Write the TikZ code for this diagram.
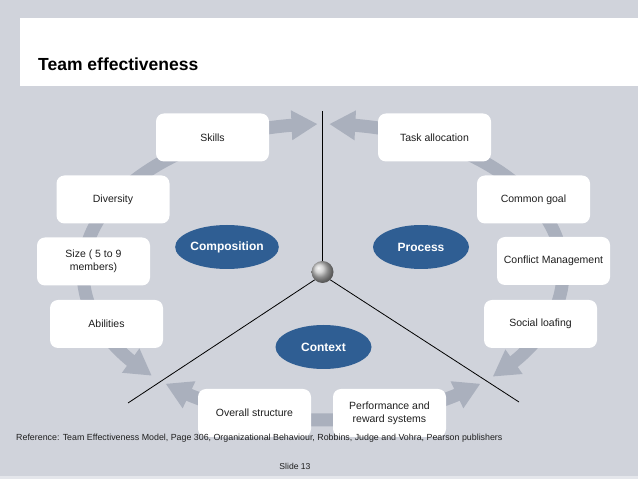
\documentclass[tikz,border=0pt]{standalone}
\usepackage{fontspec}
\setmainfont{Liberation Sans}
\usetikzlibrary{arrows.meta,bending,calc,shapes.geometric}
\definecolor{bg}{HTML}{D0D3DB}
\definecolor{band}{HTML}{AAB0BD}
\definecolor{blueell}{HTML}{2F5E93}
\definecolor{txt}{HTML}{1E1E1E}
\definecolor{strip}{HTML}{E4E6EB}
\tikzset{
  box/.style={fill=white, rounded corners=8pt, minimum width=113pt, minimum height=48pt,
    inner sep=2pt, align=center, text=txt, font=\fontsize{10.5}{13}\selectfont},
  oval/.style={ellipse, fill=blueell, minimum width=96pt, minimum height=44pt, inner sep=0pt,
    text=white, font=\fontsize{12}{14}\selectfont\bfseries},
  ring/.style={draw=band, line width=13pt,
    arrows={Triangle[width=28pt,length=26pt]-Triangle[width=28pt,length=26pt]}},
  divider/.style={draw=black, line width=0.8pt},
  small/.style={inner sep=0pt, text=txt, font=\fontsize{8.6}{10}\selectfont}
}
\begin{document}
\begin{tikzpicture}[x=1pt,y=1pt]
\useasboundingbox (0,0) rectangle (638,479);
\fill[bg] (0,0) rectangle (638,479);
\fill[strip] (0,0) rectangle (638,3);
\fill[white] (20,393) rectangle (638,461);
\node[anchor=base west, inner sep=0pt, font=\fontsize{17.5}{20}\selectfont\bfseries, text=black] (title) at (38,408) {Team effectiveness};

\coordinate (C) at (323,207);
% ring arcs
\draw[ring] ($(C)+(91.3:240pt and 148pt)$) arc[start angle=91.3, end angle=224.5, x radius=240pt, y radius=148pt];
\draw[ring] ($(C)+(229:240pt and 148pt)$) arc[start angle=229, end angle=311, x radius=240pt, y radius=148pt];
\draw[ring] ($(C)+(315:240pt and 148pt)$) arc[start angle=315, end angle=448.5, x radius=240pt, y radius=148pt];

% nodes
\node[box] (skills) at (212.5,341.5) {Skills};
\node[box] (task) at (434.5,341.5) {Task allocation};
\node[box] (div) at (113,279.5) {Diversity};
\node[box] (goal) at (533.5,279.5) {Common goal};
\node[box] (size) at (93.5,217.5) {Size ( 5 to 9\\members)};
\node[box] (conf) at (553.5,218) {Conflict Management};
\node[box] (abil) at (106.5,155) {Abilities};
\node[box] (loaf) at (540.5,155) {Social loafing};
\node[box] (struct) at (254.5,66) {Overall structure};
\node[box] (perf) at (389.5,66) {Performance and\\reward systems};

% dividers
\coordinate (topend) at (322.5,368);
\coordinate (leftend) at (128,76);
\coordinate (rightend) at (519,77);
\node[circle, minimum size=22pt, inner sep=0pt, shading=ball, ball color=gray!45] (hub) at (322.5,207) {};
\draw[divider] (topend) -- (hub.north);
\draw[divider] (hub.south west) -- (leftend);
\draw[divider] (hub.south east) -- (rightend);

% ellipses
\node[oval] (comp) at (227,232) {Composition};
\node[oval] (proc) at (421,232) {Process};
\node[oval] (ctx) at (323.5,132) {Context};

% footer
\node[small, anchor=base west, font=\fontsize{8.85}{10}\selectfont] (ref) at (16,38) {Reference: Team Effectiveness Model, Page 306, Organizational Behaviour, Robbins, Judge and Vohra, Pearson publishers};
\node[small, anchor=base] (slide) at (295,9) {Slide 13};
\end{tikzpicture}
\end{document}
